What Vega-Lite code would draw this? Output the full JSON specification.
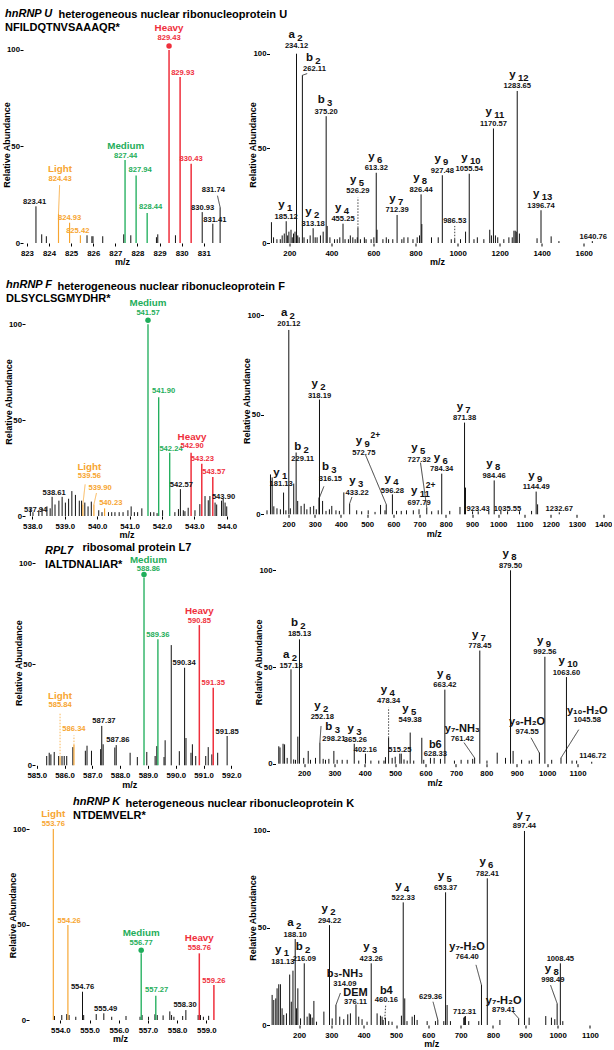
{
"$schema": "https://vega.github.io/schema/vega-lite/v6.json",
"padding": {"left": 2, "top": 8, "right": 0, "bottom": 0},
"config": {
  "view": {"stroke": null},
  "font": "Liberation Sans",
  "axis": {"grid": false, "domain": false, "labelFont": "Liberation Sans", "labelFontWeight": "bold", "labelFontSize": 7.8, "labelColor": "#000", "titleFont": "Liberation Sans", "titleFontWeight": "bold", "titleFontSize": 9, "titleColor": "#000", "tickColor": "#000", "tickSize": 3, "tickWidth": 1, "labelFlush": false, "labelOverlap": false},
  "axisX": {"labelPadding": 3, "titlePadding": 1},
  "axisY": {"labelPadding": 0.5, "titleX": -12},
  "title": {"font": "Liberation Sans", "fontWeight": "bold", "fontSize": 11, "color": "#000", "subtitleFont": "Liberation Sans", "subtitleFontWeight": "bold", "subtitleFontSize": 11, "subtitleColor": "#000", "subtitlePadding": 0, "anchor": "start", "frame": "group"},
  "text": {"font": "Liberation Sans", "fontWeight": "bold"}
},
"datasets": {
  "p1L": [{"mz":823.41,"ab":19,"c":"K"},{"mz":823.67,"ab":4.5,"c":"K"},{"mz":823.88,"ab":3.5,"c":"K"},{"mz":825.72,"ab":4,"c":"K"},{"mz":825.94,"ab":3.5,"c":"K"},{"mz":825.99,"ab":3.5,"c":"K"},{"mz":826.43,"ab":3.5,"c":"K"},{"mz":827.38,"ab":4.5,"c":"K"},{"mz":827.70,"ab":4,"c":"K"},{"mz":828.86,"ab":3,"c":"K"},{"mz":828.92,"ab":4.5,"c":"K"},{"mz":829.72,"ab":4,"c":"K"},{"mz":830.93,"ab":16,"c":"K"},{"mz":831.41,"ab":10,"c":"K"},{"mz":831.74,"ab":18.5,"c":"K"},{"mz":824.43,"ab":15,"c":"L"},{"mz":824.93,"ab":10.5,"c":"L"},{"mz":825.42,"ab":4,"c":"L"},{"mz":827.44,"ab":43,"c":"M"},{"mz":827.94,"ab":35,"c":"M"},{"mz":828.44,"ab":15.5,"c":"M"},{"mz":829.43,"ab":100,"c":"H","q":1},{"mz":829.93,"ab":86,"c":"H"},{"mz":830.43,"ab":41,"c":"H"}],
  "b1L": [{"mz":823.35,"ab":19,"t":"823.41","c":"K"},{"mz":824.5,"ab":31,"t":"824.43","n":"Light","c":"L"},{"mz":824.93,"ab":10.5,"t":"824.93","c":"L"},{"mz":825.3,"ab":4,"t":"825.42","c":"L"},{"mz":827.47,"ab":43,"t":"827.44","n":"Medium","c":"M"},{"mz":828.12,"ab":35.5,"t":"827.94","c":"M"},{"mz":828.6,"ab":16.5,"t":"828.44","c":"M"},{"mz":829.43,"ab":104,"t":"829.43","n":"Heavy","c":"H"},{"mz":830.05,"ab":86,"t":"829.93","c":"H"},{"mz":830.43,"ab":41,"t":"830.43","c":"H"},{"mz":830.95,"ab":16,"t":"830.93","c":"K"},{"mz":831.5,"ab":9.5,"t":"831.41","c":"K"},{"mz":831.43,"ab":25,"t":"831.74","c":"K"}],
  "d1L": [{"mz":824.43,"ab":15,"mz2":824.48,"ab2":30,"c":"L","d":"s"},{"mz":831.74,"ab":18.5,"mz2":831.62,"ab2":24.5,"c":"K","d":"s"}],
  "p1R": [{"mz":115,"ab":11},{"mz":125,"ab":3},{"mz":141,"ab":2},{"mz":157,"ab":2},{"mz":166,"ab":4},{"mz":176,"ab":5},{"mz":185.12,"ab":11.5},{"mz":192,"ab":4},{"mz":198,"ab":6},{"mz":208,"ab":7},{"mz":214,"ab":3},{"mz":220,"ab":5},{"mz":227,"ab":6},{"mz":234.12,"ab":100},{"mz":240,"ab":4},{"mz":247,"ab":3},{"mz":262.11,"ab":88.6},{"mz":270,"ab":3},{"mz":286,"ab":2},{"mz":299,"ab":4},{"mz":313.18,"ab":7.8},{"mz":323,"ab":3},{"mz":332,"ab":3},{"mz":348,"ab":4},{"mz":361,"ab":6},{"mz":375.2,"ab":67},{"mz":380,"ab":9},{"mz":393,"ab":3},{"mz":415,"ab":2},{"mz":428,"ab":2},{"mz":440,"ab":3},{"mz":455.25,"ab":10.2},{"mz":465,"ab":2},{"mz":481,"ab":2},{"mz":490,"ab":4},{"mz":502,"ab":3},{"mz":513,"ab":2},{"mz":523,"ab":3},{"mz":526.29,"ab":8},{"mz":538,"ab":2},{"mz":557,"ab":3},{"mz":565,"ab":2},{"mz":589,"ab":2},{"mz":602,"ab":3},{"mz":613.32,"ab":37.1},{"mz":617,"ab":7},{"mz":645,"ab":2},{"mz":661,"ab":3},{"mz":672,"ab":2},{"mz":692,"ab":2},{"mz":712.39,"ab":14.8},{"mz":735,"ab":2},{"mz":745,"ab":3},{"mz":764,"ab":3},{"mz":788,"ab":2},{"mz":808,"ab":3},{"mz":819,"ab":4},{"mz":826.44,"ab":25.7},{"mz":830,"ab":10},{"mz":876,"ab":3},{"mz":908,"ab":3},{"mz":927.48,"ab":35.8},{"mz":970,"ab":2},{"mz":986.53,"ab":2},{"mz":1014,"ab":2},{"mz":1038,"ab":6},{"mz":1055.54,"ab":36.6},{"mz":1078,"ab":2},{"mz":1094,"ab":3},{"mz":1125,"ab":2},{"mz":1153,"ab":7},{"mz":1161,"ab":4},{"mz":1170.57,"ab":60.5},{"mz":1180,"ab":4},{"mz":1191,"ab":3},{"mz":1220,"ab":2},{"mz":1244,"ab":3},{"mz":1260,"ab":3},{"mz":1268,"ab":6.5},{"mz":1274,"ab":6.5},{"mz":1279,"ab":6},{"mz":1283.65,"ab":80.3},{"mz":1294,"ab":5},{"mz":1378,"ab":2.5},{"mz":1396.74,"ab":17.3},{"mz":1445,"ab":3.5},{"mz":1482,"ab":1},{"mz":1640.76,"ab":1}],
  "b1R": [{"mz":185.12,"ab":11.5,"t":"185.12","n":"y","s":"1"},{"mz":234.12,"ab":101.5,"t":"234.12","n":"a","s":"2"},{"mz":319.7,"ab":89.4,"t":"262.11","n":"b","s":"2"},{"mz":313.18,"ab":7.8,"t":"313.18","n":"y","s":"2"},{"mz":375.2,"ab":67,"t":"375.20","n":"b","s":"3"},{"mz":455.25,"ab":10.2,"t":"455.25","n":"y","s":"4"},{"mz":526.29,"ab":25,"t":"526.29","n":"y","s":"5"},{"mz":613.32,"ab":37.1,"t":"613.32","n":"y","s":"6"},{"mz":712.39,"ab":14.8,"t":"712.39","n":"y","s":"7"},{"mz":826.44,"ab":25.7,"t":"826.44","n":"y","s":"8"},{"mz":927.48,"ab":35.8,"t":"927.48","n":"y","s":"9"},{"mz":986.53,"ab":9.5,"t":"986.53"},{"mz":1055.54,"ab":36.6,"t":"1055.54","n":"y","s":"10"},{"mz":1170.57,"ab":60.5,"t":"1170.57","n":"y","s":"11"},{"mz":1283.65,"ab":80.3,"t":"1283.65","n":"y","s":"12"},{"mz":1396.74,"ab":17.3,"t":"1396.74","n":"y","s":"13"},{"mz":1645,"ab":1,"t":"1640.76"}],
  "d1R": [{"mz":262.11,"ab":88.6,"mz2":285,"ab2":89.5,"d":"s"},{"mz":526.29,"ab":8,"mz2":526.29,"ab2":24,"d":"d"},{"mz":986.53,"ab":2,"mz2":986.53,"ab2":9,"d":"d"}],
  "p2L": [{"mz":537.94,"ab":4,"c":"K"},{"mz":538.02,"ab":2,"c":"K"},{"mz":538.2,"ab":3,"c":"K"},{"mz":538.3,"ab":4,"c":"K"},{"mz":538.45,"ab":5,"c":"K"},{"mz":538.55,"ab":4,"c":"K"},{"mz":538.61,"ab":10,"c":"K"},{"mz":538.7,"ab":6,"c":"K"},{"mz":538.82,"ab":8,"c":"K"},{"mz":538.92,"ab":10,"c":"K"},{"mz":539.02,"ab":7,"c":"K"},{"mz":539.12,"ab":9,"c":"K"},{"mz":539.22,"ab":13,"c":"K"},{"mz":539.33,"ab":11,"c":"K"},{"mz":539.45,"ab":8,"c":"K"},{"mz":539.52,"ab":8,"c":"K"},{"mz":539.62,"ab":7,"c":"K"},{"mz":539.72,"ab":5,"c":"K"},{"mz":539.82,"ab":7.5,"c":"K"},{"mz":540.05,"ab":3,"c":"K"},{"mz":540.15,"ab":2,"c":"K"},{"mz":540.35,"ab":2,"c":"K"},{"mz":540.45,"ab":2,"c":"K"},{"mz":540.55,"ab":2,"c":"K"},{"mz":540.68,"ab":2,"c":"K"},{"mz":540.8,"ab":2,"c":"K"},{"mz":540.95,"ab":3,"c":"K"},{"mz":541.05,"ab":5,"c":"K"},{"mz":541.15,"ab":2,"c":"K"},{"mz":541.25,"ab":2,"c":"K"},{"mz":541.38,"ab":4,"c":"K"},{"mz":541.65,"ab":2,"c":"K"},{"mz":541.75,"ab":2,"c":"K"},{"mz":541.85,"ab":1.5,"c":"K"},{"mz":542.02,"ab":3,"c":"K"},{"mz":542.4,"ab":2,"c":"K"},{"mz":542.51,"ab":3.6,"c":"K"},{"mz":542.57,"ab":14,"c":"K"},{"mz":542.66,"ab":3,"c":"K"},{"mz":542.71,"ab":2.5,"c":"K"},{"mz":542.81,"ab":4.3,"c":"K"},{"mz":543.02,"ab":3,"c":"K"},{"mz":543.17,"ab":6.2,"c":"K"},{"mz":543.33,"ab":10.4,"c":"K"},{"mz":543.43,"ab":8.2,"c":"K"},{"mz":543.48,"ab":10.4,"c":"K"},{"mz":543.64,"ab":7,"c":"K"},{"mz":543.69,"ab":6,"c":"K"},{"mz":543.84,"ab":8,"c":"K"},{"mz":543.89,"ab":9,"c":"K"},{"mz":543.95,"ab":7,"c":"K"},{"mz":544.0,"ab":5,"c":"K"},{"mz":539.56,"ab":6,"c":"L"},{"mz":539.9,"ab":6,"c":"L"},{"mz":540.23,"ab":4,"c":"L"},{"mz":541.57,"ab":100,"c":"M","q":1},{"mz":541.9,"ab":62,"c":"M"},{"mz":542.24,"ab":33,"c":"M"},{"mz":542.9,"ab":33,"c":"H"},{"mz":543.23,"ab":27.3,"c":"H"},{"mz":543.57,"ab":20.3,"c":"H"}],
  "b2L": [{"mz":538.1,"ab":0.6,"t":"537.94","c":"K"},{"mz":538.67,"ab":9.7,"t":"538.61","c":"K"},{"mz":539.76,"ab":18.4,"t":"539.56","n":"Light","c":"L"},{"mz":540.09,"ab":12.3,"t":"539.90","c":"L"},{"mz":540.42,"ab":4.5,"t":"540.23","c":"L"},{"mz":541.57,"ab":103.6,"t":"541.57","n":"Medium","c":"M"},{"mz":542.05,"ab":62.7,"t":"541.90","c":"M"},{"mz":542.28,"ab":32.5,"t":"542.24","c":"M"},{"mz":542.6,"ab":14,"t":"542.57","c":"K"},{"mz":542.93,"ab":34,"t":"542.90","n":"Heavy","c":"H"},{"mz":543.25,"ab":27.5,"t":"543.23","c":"H"},{"mz":543.6,"ab":20.5,"t":"543.57","c":"H"},{"mz":543.9,"ab":7.6,"t":"543.90","c":"K"}],
  "d2L": [{"mz":539.56,"ab":6,"mz2":539.63,"ab2":16.5,"c":"L","d":"s"},{"mz":539.9,"ab":6,"mz2":539.98,"ab2":12,"c":"L","d":"s"}],
  "p2R": [{"mz":118,"ab":2},{"mz":131.3,"ab":20},{"mz":137.6,"ab":18.5},{"mz":144,"ab":4},{"mz":156,"ab":3},{"mz":169,"ab":2.5},{"mz":181.13,"ab":10.9},{"mz":190,"ab":2},{"mz":201.12,"ab":92.5},{"mz":207,"ab":3},{"mz":220,"ab":15.4},{"mz":229.11,"ab":31},{"mz":235,"ab":6.7},{"mz":248,"ab":4.2},{"mz":260,"ab":5.3},{"mz":270,"ab":2.5},{"mz":283,"ab":3.7},{"mz":296,"ab":4.2},{"mz":306,"ab":2.5},{"mz":316.15,"ab":8.4},{"mz":318.19,"ab":57.6},{"mz":330,"ab":6.7},{"mz":343,"ab":1.7},{"mz":356,"ab":2.5},{"mz":365,"ab":4.2},{"mz":381,"ab":2},{"mz":394,"ab":1.7},{"mz":411,"ab":11},{"mz":433.22,"ab":5.4},{"mz":460,"ab":2},{"mz":479,"ab":1.5},{"mz":504,"ab":2},{"mz":530,"ab":1.2},{"mz":551,"ab":4.7},{"mz":568,"ab":2},{"mz":572.75,"ab":5},{"mz":596.28,"ab":10},{"mz":612,"ab":1.7},{"mz":630,"ab":1.7},{"mz":650,"ab":2},{"mz":676,"ab":2},{"mz":697.79,"ab":2.5},{"mz":727.32,"ab":3.4},{"mz":746,"ab":1.5},{"mz":771,"ab":2},{"mz":784.34,"ab":20.4},{"mz":815,"ab":1.7},{"mz":854,"ab":3.7},{"mz":871.38,"ab":46},{"mz":875,"ab":13.4},{"mz":902,"ab":1.5},{"mz":923.43,"ab":1.5},{"mz":964,"ab":1.7},{"mz":984.46,"ab":17},{"mz":1010,"ab":1.7},{"mz":1035.55,"ab":1.5},{"mz":1081,"ab":1.5},{"mz":1127,"ab":1.7},{"mz":1144.49,"ab":11.4},{"mz":1150,"ab":5},{"mz":1232.67,"ab":1}],
  "b2R": [{"mz":172,"ab":12.7,"t":"181.13","n":"y","s":"1"},{"mz":201.12,"ab":93,"t":"201.12","n":"a","s":"2"},{"mz":254,"ab":25.6,"t":"229.11","n":"b","s":"2"},{"mz":360,"ab":15.5,"t":"316.15","n":"b","s":"3"},{"mz":318.19,"ab":57.2,"t":"318.19","n":"y","s":"2"},{"mz":462,"ab":8.5,"t":"433.22","n":"y","s":"3"},{"mz":487,"ab":28.6,"t":"572.75","n":"y","s":"9","p":"2+"},{"mz":596.28,"ab":9.5,"t":"596.28","n":"y","s":"4"},{"mz":697.79,"ab":3.5,"t":"697.79","n":"y","s":"11","p":"\u00a0\u00a0\u00a02+"},{"mz":698,"ab":25.2,"t":"727.32","n":"y","s":"5"},{"mz":784.34,"ab":20.4,"t":"784.34","n":"y","s":"6"},{"mz":871.38,"ab":46,"t":"871.38","n":"y","s":"7"},{"mz":923.43,"ab":0.5,"t":"923.43"},{"mz":984.46,"ab":17,"t":"984.46","n":"y","s":"8"},{"mz":1035.55,"ab":0.5,"t":"1035.55"},{"mz":1144.49,"ab":11.4,"t":"1144.49","n":"y","s":"9"},{"mz":1232.67,"ab":0.5,"t":"1232.67"}],
  "d2R": [{"mz":318,"ab":8.4,"mz2":335,"ab2":14,"d":"s"},{"mz":433.22,"ab":5.4,"mz2":442,"ab2":8.7,"d":"s"},{"mz":572.75,"ab":5,"mz2":493.6,"ab2":29.8,"d":"s"},{"mz":727.32,"ab":3.4,"mz2":703.4,"ab2":25.9,"d":"s"}],
  "p3L": [{"mz":585.36,"ab":4.6,"c":"K"},{"mz":585.45,"ab":6.2,"c":"K"},{"mz":585.51,"ab":5.4,"c":"K"},{"mz":585.63,"ab":6.6,"c":"K"},{"mz":585.79,"ab":4.6,"c":"K"},{"mz":585.91,"ab":4.6,"c":"K"},{"mz":585.99,"ab":4.6,"c":"K"},{"mz":586.08,"ab":4.6,"c":"K"},{"mz":586.3,"ab":9,"c":"K"},{"mz":586.75,"ab":7.2,"c":"K"},{"mz":586.81,"ab":9.7,"c":"K"},{"mz":586.97,"ab":7.2,"c":"K"},{"mz":587.3,"ab":8,"c":"K"},{"mz":587.34,"ab":19.5,"c":"K"},{"mz":587.39,"ab":10.4,"c":"K"},{"mz":587.81,"ab":8.8,"c":"K"},{"mz":587.86,"ab":10,"c":"K"},{"mz":588.36,"ab":6.2,"c":"K"},{"mz":588.62,"ab":4.1,"c":"K"},{"mz":588.96,"ab":6.6,"c":"K"},{"mz":589.26,"ab":4.6,"c":"K"},{"mz":589.32,"ab":9.5,"c":"K"},{"mz":589.58,"ab":4.1,"c":"K"},{"mz":589.62,"ab":12.4,"c":"K"},{"mz":589.84,"ab":59.5,"c":"K"},{"mz":590.13,"ab":7,"c":"K"},{"mz":590.32,"ab":48.3,"c":"K"},{"mz":590.37,"ab":13.5,"c":"K"},{"mz":590.55,"ab":6.2,"c":"K"},{"mz":590.6,"ab":10.4,"c":"K"},{"mz":590.72,"ab":4.6,"c":"K"},{"mz":591.08,"ab":4.6,"c":"K"},{"mz":591.17,"ab":9,"c":"K"},{"mz":591.3,"ab":5.4,"c":"K"},{"mz":591.51,"ab":6.2,"c":"K"},{"mz":591.85,"ab":14.5,"c":"K"},{"mz":585.84,"ab":4,"c":"L"},{"mz":586.34,"ab":10,"c":"L"},{"mz":588.86,"ab":93,"c":"M","q":1},{"mz":589.36,"ab":62.4,"c":"M"},{"mz":590.85,"ab":69.4,"c":"H"},{"mz":591.35,"ab":38.4,"c":"H"}],
  "b3L": [{"mz":585.84,"ab":27.5,"t":"585.84","n":"Light","c":"L"},{"mz":586.34,"ab":15.5,"t":"586.34","c":"L"},{"mz":587.42,"ab":19.5,"t":"587.37","c":"K"},{"mz":587.92,"ab":10.2,"t":"587.86","c":"K"},{"mz":589.02,"ab":94.8,"t":"588.86","n":"Medium","c":"M"},{"mz":589.36,"ab":62.4,"t":"589.36","c":"M"},{"mz":590.3,"ab":48.3,"t":"590.34","c":"K"},{"mz":590.85,"ab":69.4,"t":"590.85","n":"Heavy","c":"H"},{"mz":591.35,"ab":38.4,"t":"591.35","c":"H"},{"mz":591.85,"ab":14.5,"t":"591.85","c":"K"}],
  "d3L": [{"mz":585.84,"ab":4,"mz2":585.84,"ab2":26,"c":"L","d":"d"},{"mz":586.34,"ab":10,"mz2":586.34,"ab2":14.8,"c":"L","d":"d"}],
  "p3R": [{"mz":117,"ab":9},{"mz":121,"ab":8.4},{"mz":131,"ab":10.3},{"mz":136,"ab":10},{"mz":144.6,"ab":3},{"mz":157.13,"ab":48.8},{"mz":166,"ab":2.2},{"mz":172,"ab":2},{"mz":179.6,"ab":14},{"mz":185.13,"ab":64.3},{"mz":199,"ab":3},{"mz":213.8,"ab":6.6},{"mz":221.3,"ab":2},{"mz":237.8,"ab":3},{"mz":252.18,"ab":10.9},{"mz":263,"ab":2.5},{"mz":270.7,"ab":2},{"mz":281.7,"ab":2.5},{"mz":298.21,"ab":6.6},{"mz":309,"ab":2},{"mz":325.6,"ab":2},{"mz":342,"ab":2},{"mz":365.26,"ab":10.3},{"mz":380,"ab":1.6},{"mz":402.16,"ab":5.2},{"mz":420,"ab":1.6},{"mz":446,"ab":1.6},{"mz":463,"ab":1.6},{"mz":468,"ab":3.4},{"mz":478.34,"ab":13.4},{"mz":490,"ab":3},{"mz":500,"ab":3.6},{"mz":515.25,"ab":5.2},{"mz":520,"ab":5.2},{"mz":529,"ab":2.2},{"mz":539.5,"ab":1.6},{"mz":549.38,"ab":16.1},{"mz":561,"ab":1.6},{"mz":587.6,"ab":13.4},{"mz":594,"ab":2},{"mz":616,"ab":3},{"mz":628.33,"ab":3},{"mz":649,"ab":2.5},{"mz":663.42,"ab":38.3},{"mz":695,"ab":1.6},{"mz":717,"ab":2},{"mz":739,"ab":2},{"mz":755,"ab":2.5},{"mz":761.42,"ab":3},{"mz":778.45,"ab":58.5},{"mz":802,"ab":1.6},{"mz":835.7,"ab":5.7},{"mz":863,"ab":3},{"mz":879.5,"ab":100},{"mz":888,"ab":6.6},{"mz":916,"ab":2},{"mz":941,"ab":1.6},{"mz":949,"ab":2},{"mz":974.55,"ab":5.7},{"mz":992.56,"ab":55.3},{"mz":1015,"ab":2},{"mz":1045.58,"ab":3},{"mz":1063.6,"ab":44.8},{"mz":1082,"ab":1.6},{"mz":1097,"ab":1.6},{"mz":1146.72,"ab":1}],
  "b3R": [{"mz":157.13,"ab":48,"t":"157.13","n":"a","s":"2"},{"mz":185.13,"ab":64.5,"t":"185.13","n":"b","s":"2"},{"mz":260,"ab":21.7,"t":"252.18","n":"y","s":"2"},{"mz":298.21,"ab":10.6,"t":"298.21","n":"b","s":"3"},{"mz":369,"ab":9.7,"t":"365.26","n":"y","s":"3"},{"mz":402.16,"ab":4.7,"t":"402.16"},{"mz":478.34,"ab":30,"t":"478.34","n":"y","s":"4"},{"mz":515.25,"ab":4.7,"t":"515.25"},{"mz":549.38,"ab":20.1,"t":"549.38","n":"y","s":"5"},{"mz":632,"ab":2.5,"t":"628.33","n":"b6"},{"mz":663.42,"ab":38.3,"t":"663.42","n":"y","s":"6"},{"mz":721,"ab":10.5,"t":"761.42","n":"y₇-NH₃"},{"mz":778.45,"ab":58.5,"t":"778.45","n":"y","s":"7"},{"mz":879.5,"ab":100,"t":"879.50","n":"y","s":"8"},{"mz":934,"ab":14.2,"t":"974.55","n":"y₉-H₂O"},{"mz":992.56,"ab":55.3,"t":"992.56","n":"y","s":"9"},{"mz":1063.6,"ab":44.8,"t":"1063.60","n":"y","s":"10"},{"mz":1132,"ab":20.2,"t":"1045.58","n":"y₁₀-H₂O"},{"mz":1150,"ab":1.5,"t":"1146.72"}],
  "d3R": [{"mz":252.18,"ab":10.9,"mz2":256,"ab2":19.5,"d":"s"},{"mz":478.34,"ab":13.4,"mz2":478.34,"ab2":29,"d":"d"},{"mz":761.42,"ab":3,"mz2":726.5,"ab2":10.9,"d":"s"},{"mz":974.55,"ab":5.5,"mz2":947,"ab2":13.4,"d":"s"},{"mz":1045.58,"ab":3,"mz2":1104,"ab2":17.6,"d":"s"}],
  "p4L": [{"mz":553.8,"ab":2.1,"c":"K"},{"mz":554.05,"ab":2.6,"c":"K"},{"mz":554.22,"ab":3.1,"c":"K"},{"mz":554.3,"ab":2.6,"c":"K"},{"mz":554.53,"ab":1.7,"c":"K"},{"mz":554.76,"ab":14.8,"c":"K"},{"mz":554.8,"ab":2.6,"c":"K"},{"mz":555.23,"ab":3.1,"c":"K"},{"mz":555.49,"ab":3.5,"c":"K"},{"mz":555.76,"ab":1.7,"c":"K"},{"mz":556.25,"ab":2.1,"c":"K"},{"mz":556.73,"ab":1.7,"c":"K"},{"mz":556.8,"ab":2.6,"c":"K"},{"mz":557.02,"ab":1.7,"c":"K"},{"mz":557.24,"ab":3,"c":"K"},{"mz":557.32,"ab":2.6,"c":"K"},{"mz":557.52,"ab":2.4,"c":"K"},{"mz":557.75,"ab":4.5,"c":"K"},{"mz":557.81,"ab":2.6,"c":"K"},{"mz":557.89,"ab":1.7,"c":"K"},{"mz":558.19,"ab":2.1,"c":"K"},{"mz":558.3,"ab":5.2,"c":"K"},{"mz":558.72,"ab":2.6,"c":"K"},{"mz":558.8,"ab":2.6,"c":"K"},{"mz":558.9,"ab":1.7,"c":"K"},{"mz":559.08,"ab":2.2,"c":"K"},{"mz":553.76,"ab":100,"c":"L"},{"mz":554.26,"ab":49.7,"c":"L"},{"mz":556.77,"ab":34.9,"c":"M","q":1},{"mz":557.27,"ab":12.7,"c":"M"},{"mz":558.76,"ab":34.9,"c":"H"},{"mz":559.26,"ab":18.3,"c":"H"}],
  "b4L": [{"mz":553.76,"ab":100.5,"t":"553.76","n":"Light","c":"L"},{"mz":554.3,"ab":49.7,"t":"554.26","c":"L"},{"mz":554.76,"ab":14.8,"t":"554.76","c":"K"},{"mz":555.55,"ab":3.5,"t":"555.49","c":"K"},{"mz":556.77,"ab":38,"t":"556.77","n":"Medium","c":"M"},{"mz":557.3,"ab":13.2,"t":"557.27","c":"M"},{"mz":558.27,"ab":5.5,"t":"558.30","c":"K"},{"mz":558.76,"ab":35.6,"t":"558.76","n":"Heavy","c":"H"},{"mz":559.26,"ab":18.3,"t":"559.26","c":"H"}],
  "p4R": [{"mz":116.7,"ab":15.5},{"mz":121.8,"ab":12.9},{"mz":128,"ab":13.7},{"mz":132,"ab":18.9},{"mz":137.2,"ab":21},{"mz":142.4,"ab":21},{"mz":147.5,"ab":8.6},{"mz":152.7,"ab":5.2},{"mz":161,"ab":6},{"mz":171,"ab":26},{"mz":176,"ab":12},{"mz":181.13,"ab":28},{"mz":188.1,"ab":44.3},{"mz":192,"ab":8.6},{"mz":196.3,"ab":18.9},{"mz":204.6,"ab":3.4},{"mz":216.09,"ab":31.8},{"mz":225,"ab":4.3},{"mz":231.5,"ab":6},{"mz":235.6,"ab":5.5},{"mz":240.7,"ab":3.8},{"mz":245.9,"ab":12.4},{"mz":254.1,"ab":1.7},{"mz":276.8,"ab":6.9},{"mz":294.22,"ab":51.5},{"mz":302.5,"ab":3.4},{"mz":314.09,"ab":10.3},{"mz":325.9,"ab":4.3},{"mz":338.3,"ab":3},{"mz":350.7,"ab":5.5},{"mz":358.9,"ab":6},{"mz":376.11,"ab":10.6},{"mz":384.6,"ab":4.3},{"mz":394.9,"ab":3},{"mz":410.4,"ab":1.7},{"mz":423.26,"ab":31.8},{"mz":441.5,"ab":6},{"mz":451.8,"ab":4.8},{"mz":456.9,"ab":4.3},{"mz":460.16,"ab":2.6},{"mz":467.2,"ab":3.8},{"mz":477.5,"ab":2},{"mz":487.8,"ab":1.7},{"mz":516.7,"ab":4.8},{"mz":522.33,"ab":63.2},{"mz":527,"ab":13.7},{"mz":534,"ab":2},{"mz":549.9,"ab":4.3},{"mz":557.1,"ab":5.2},{"mz":565.3,"ab":2.6},{"mz":596.3,"ab":2},{"mz":622,"ab":2},{"mz":629.36,"ab":2.6},{"mz":647.8,"ab":2},{"mz":653.37,"ab":68.4},{"mz":658.1,"ab":10.3},{"mz":668.4,"ab":2},{"mz":709.6,"ab":3.8},{"mz":712.31,"ab":4.3},{"mz":714.8,"ab":4.6},{"mz":725,"ab":2},{"mz":756,"ab":2},{"mz":764.4,"ab":20.6},{"mz":782.41,"ab":75.6},{"mz":821.4,"ab":2.6},{"mz":879.41,"ab":3.4},{"mz":897.44,"ab":100},{"mz":911.8,"ab":3.8},{"mz":963.3,"ab":4.6},{"mz":980.9,"ab":3.8},{"mz":991.2,"ab":3},{"mz":998.49,"ab":11.1},{"mz":1008.45,"ab":31.8},{"mz":1016,"ab":2}],
  "b4R": [{"mz":150,"ab":30.2,"t":"181.13","n":"y","s":"1"},{"mz":188.1,"ab":44.3,"t":"188.10","n":"a","s":"2"},{"mz":216.09,"ab":31.8,"t":"216.09","n":"b","s":"2"},{"mz":294.22,"ab":51.5,"t":"294.22","n":"y","s":"2"},{"mz":342,"ab":19,"t":"314.09","n":"b₃-NH₃"},{"mz":374.7,"ab":9.5,"t":"376.11","n":"DEM"},{"mz":423.26,"ab":31.8,"t":"423.26","n":"y","s":"3"},{"mz":470,"ab":10.5,"t":"460.16","n":"b4"},{"mz":522.33,"ab":63.2,"t":"522.33","n":"y","s":"4"},{"mz":607,"ab":12.2,"t":"629.36"},{"mz":712.31,"ab":4.3,"t":"712.31"},{"mz":653.37,"ab":68.4,"t":"653.37","n":"y","s":"5"},{"mz":720,"ab":32.8,"t":"764.40","n":"y₇-H₂O"},{"mz":782.41,"ab":75.6,"t":"782.41","n":"y","s":"6"},{"mz":833,"ab":5.3,"t":"879.41","n":"y₇-H₂O"},{"mz":897.44,"ab":100,"t":"897.44","n":"y","s":"7"},{"mz":985,"ab":20.8,"t":"998.49","n":"y","s":"8"},{"mz":1008.45,"ab":31.8,"t":"1008.45"}],
  "d4R": [{"mz":314.09,"ab":10.3,"mz2":328,"ab2":16.5,"d":"s"},{"mz":465,"ab":3,"mz2":468,"ab2":10,"d":"d"},{"mz":629.36,"ab":2.6,"mz2":614.5,"ab2":12,"d":"s"},{"mz":764.4,"ab":20.6,"mz2":747.4,"ab2":31,"d":"s"},{"mz":879.41,"ab":3.4,"mz2":859,"ab2":7.2,"d":"s"},{"mz":998.49,"ab":11.1,"mz2":978,"ab2":20.6,"d":"s"}]
},
"columns": 2,
"bounds": "flush",
"align": "each",
"spacing": {"row": 44, "column": 27.5},
"concat": [
 {
  "width": 198, "height": 197,
  "title": {"text": "hnRNP U", "fontStyle": "italic", "subtitle": "NFILDQTNVSAAAQR*", "dx": -18, "offset": -10},
  "encoding": {
   "x": {"field": "mz", "type": "quantitative", "scale": {"domain": [822.824, 831.78], "nice": false, "zero": false}, "axis": {"values": [823,824,825,826,827,828,829,830,831], "format": "d", "title": "m/z"}},
   "y": {"field": "ab", "type": "quantitative", "scale": {"domain": [0, 102.07], "nice": false}, "axis": {"values": [0,50,100], "title": "Relative Abundance", "offset": 0}},
   "color": {"field": "c", "type": "nominal", "scale": {"domain": ["K","L","M","H"], "range": ["#111111","#F7A530","#1FAE5B","#EF2F3C"]}, "legend": null}
  },
  "layer": [
   {"data": {"name": "p1L"}, "mark": {"type": "rule"}, "encoding": {"y2": {"datum": 0}, "size": {"field": "c", "type": "ordinal", "scale": {"domain": ["K","L","M","H"], "range": [1,1.5,1.5,1.5]}, "legend": null}}},
   {"data": {"values": [{}]}, "mark": {"type": "rule", "strokeWidth": 1}, "encoding": {"x": {"datum": 822.824}, "x2": {"datum": 831.78}, "y": {"datum": 0}, "color": {"value": "#000"}}},
   {"data": {"values": [{}]}, "mark": {"type": "rule", "strokeWidth": 1}, "encoding": {"x": {"datum": 822.824}, "y": {"datum": 0}, "y2": {"datum": 100}, "color": {"value": "#000"}}},
   {"data": {"name": "d1L"}, "mark": {"type": "rule", "strokeWidth": 0.8}, "encoding": {"x2": {"field": "mz2"}, "y2": {"field": "ab2"}, "strokeDash": {"field": "d", "type": "nominal", "scale": {"domain": ["s","d"], "range": [[1,0],[1.5,1.5]]}, "legend": null}}},
   {"data": {"name": "b1L"}, "mark": {"type": "text", "baseline": "alphabetic", "dy": -2.5, "fontSize": 7.6}, "encoding": {"text": {"field": "t"}}},
   {"data": {"name": "b1L"}, "transform": [{"filter": "datum.n"}], "mark": {"type": "text", "baseline": "alphabetic", "dy": -11, "fontSize": 9.8}, "encoding": {"text": {"field": "n"}}},
   {"data": {"name": "p1L"}, "transform": [{"filter": "datum.q == 1"}], "mark": {"type": "point", "filled": true, "size": 30, "yOffset": -4, "opacity": 1}}
  ]
 },
 {
  "width": 347, "height": 197,
  "title": {"text": "heterogeneous nuclear ribonucleoprotein U", "dx": -205, "offset": 8.5},
  "encoding": {
   "x": {"field": "mz", "type": "quantitative", "scale": {"domain": [77.2, 1727.2], "nice": false, "zero": false}, "axis": {"values": [200,400,600,800,1000,1200,1400,1600], "format": "d", "title": "m/z"}},
   "y": {"field": "ab", "type": "quantitative", "scale": {"domain": [0, 104.07], "nice": false}, "axis": {"values": [0,50,100], "title": "Relative Abundance", "offset": -6}},
   "color": {"value": "#111111"}
  },
  "layer": [
   {"data": {"name": "p1R"}, "mark": {"type": "rule", "strokeWidth": 1}, "encoding": {"y2": {"datum": 0}}},
   {"data": {"values": [{}]}, "mark": {"type": "rule", "strokeWidth": 1}, "encoding": {"x": {"datum": 105.7}, "x2": {"datum": 1727.2}, "y": {"datum": 0}, "color": {"value": "#000"}}},
   {"data": {"values": [{}]}, "mark": {"type": "rule", "strokeWidth": 1}, "encoding": {"x": {"datum": 105.7}, "y": {"datum": 0}, "y2": {"datum": 100}, "color": {"value": "#000"}}},
   {"data": {"name": "d1R"}, "mark": {"type": "rule", "strokeWidth": 0.8}, "encoding": {"x2": {"field": "mz2"}, "y2": {"field": "ab2"}, "strokeDash": {"field": "d", "type": "nominal", "scale": {"domain": ["s","d"], "range": [[1,0],[1.5,1.5]]}, "legend": null}}},
   {"data": {"name": "b1R"}, "mark": {"type": "text", "baseline": "alphabetic", "dy": -2.5, "fontSize": 7.6}, "encoding": {"text": {"field": "t"}}},
   {"data": {"name": "b1R"}, "transform": [{"filter": "datum.s"}], "mark": {"type": "text", "baseline": "alphabetic", "align": "right", "dx": -1.5, "dy": -13, "fontSize": 11.5}, "encoding": {"text": {"field": "n"}}},
   {"data": {"name": "b1R"}, "transform": [{"filter": "datum.s"}], "mark": {"type": "text", "baseline": "alphabetic", "align": "left", "dx": 0.8, "dy": -10, "fontSize": 9.5}, "encoding": {"text": {"field": "s"}}}
  ]
 },
 {
  "width": 207, "height": 229,
  "title": {"text": "hnRNP F", "fontStyle": "italic", "subtitle": "DLSYCLSGMYDHR*", "dx": -17, "offset": -17},
  "encoding": {
   "x": {"field": "mz", "type": "quantitative", "scale": {"domain": [537.712, 544.101], "nice": false, "zero": false}, "axis": {"values": [538,539,540,541,542,543,544], "format": ".1f", "title": "m/z"}},
   "y": {"field": "ab", "type": "quantitative", "scale": {"domain": [0, 119.46], "nice": false}, "axis": {"values": [0,50,100], "title": "Relative Abundance", "offset": -2}},
   "color": {"field": "c", "type": "nominal", "scale": {"domain": ["K","L","M","H"], "range": ["#111111","#F7A530","#1FAE5B","#EF2F3C"]}, "legend": null}
  },
  "layer": [
   {"data": {"name": "p2L"}, "mark": {"type": "rule"}, "encoding": {"y2": {"datum": 0}, "size": {"field": "c", "type": "ordinal", "scale": {"domain": ["K","L","M","H"], "range": [1,1.5,1.5,1.5]}, "legend": null}}},
   {"data": {"values": [{}]}, "mark": {"type": "rule", "strokeWidth": 1}, "encoding": {"x": {"datum": 537.774}, "x2": {"datum": 544.101}, "y": {"datum": 0}, "color": {"value": "#000"}}},
   {"data": {"values": [{}]}, "mark": {"type": "rule", "strokeWidth": 1}, "encoding": {"x": {"datum": 537.774}, "y": {"datum": 0}, "y2": {"datum": 100}, "color": {"value": "#000"}}},
   {"data": {"name": "d2L"}, "mark": {"type": "rule", "strokeWidth": 0.8}, "encoding": {"x2": {"field": "mz2"}, "y2": {"field": "ab2"}, "strokeDash": {"field": "d", "type": "nominal", "scale": {"domain": ["s","d"], "range": [[1,0],[1.5,1.5]]}, "legend": null}}},
   {"data": {"name": "b2L"}, "mark": {"type": "text", "baseline": "alphabetic", "dy": -2.5, "fontSize": 7.6}, "encoding": {"text": {"field": "t"}}},
   {"data": {"name": "b2L"}, "transform": [{"filter": "datum.n"}], "mark": {"type": "text", "baseline": "alphabetic", "dy": -11, "fontSize": 9.8}, "encoding": {"text": {"field": "n"}}},
   {"data": {"name": "p2L"}, "transform": [{"filter": "datum.q == 1"}], "mark": {"type": "point", "filled": true, "size": 30, "yOffset": -4, "opacity": 1}}
  ]
 },
 {
  "width": 340.3, "height": 227.3,
  "title": {"text": "heterogeneous nuclear ribonucleoprotein F", "dx": -206, "offset": -4.5},
  "encoding": {
   "x": {"field": "mz", "type": "quantitative", "scale": {"domain": [104.63, 1402.5], "nice": false, "zero": false}, "axis": {"values": [200,300,400,500,600,700,800,900,1000,1100,1200,1300,1400], "format": "d", "title": "m/z"}},
   "y": {"field": "ab", "type": "quantitative", "scale": {"domain": [0, 114.05], "nice": false}, "axis": {"values": [0,50,100], "title": "Relative Abundance", "offset": 0}},
   "color": {"value": "#111111"}
  },
  "layer": [
   {"data": {"name": "p2R"}, "mark": {"type": "rule", "strokeWidth": 1}, "encoding": {"y2": {"datum": 0}}},
   {"data": {"values": [{}]}, "mark": {"type": "rule", "strokeWidth": 1}, "encoding": {"x": {"datum": 104.63}, "x2": {"datum": 1402.5}, "y": {"datum": 0}, "color": {"value": "#000"}}},
   {"data": {"values": [{}]}, "mark": {"type": "rule", "strokeWidth": 1}, "encoding": {"x": {"datum": 104.63}, "y": {"datum": 0}, "y2": {"datum": 100}, "color": {"value": "#000"}}},
   {"data": {"name": "d2R"}, "mark": {"type": "rule", "strokeWidth": 0.8}, "encoding": {"x2": {"field": "mz2"}, "y2": {"field": "ab2"}, "strokeDash": {"field": "d", "type": "nominal", "scale": {"domain": ["s","d"], "range": [[1,0],[1.5,1.5]]}, "legend": null}}},
   {"data": {"name": "b2R"}, "mark": {"type": "text", "baseline": "alphabetic", "dy": -2.5, "fontSize": 7.6}, "encoding": {"text": {"field": "t"}}},
   {"data": {"name": "b2R"}, "transform": [{"filter": "datum.s"}], "mark": {"type": "text", "baseline": "alphabetic", "align": "right", "dx": -1.5, "dy": -13, "fontSize": 11.5}, "encoding": {"text": {"field": "n"}}},
   {"data": {"name": "b2R"}, "transform": [{"filter": "datum.s"}], "mark": {"type": "text", "baseline": "alphabetic", "align": "left", "dx": 0.8, "dy": -10, "fontSize": 9.5}, "encoding": {"text": {"field": "s"}}},
   {"data": {"name": "b2R"}, "transform": [{"filter": "datum.p"}], "mark": {"type": "text", "baseline": "alphabetic", "align": "left", "dx": 6.8, "dy": -19.8, "fontSize": 8.5}, "encoding": {"text": {"field": "p"}}}
  ]
 },
 {
  "width": 212.5, "height": 205.3,
  "title": {"text": "RPL7", "fontStyle": "italic", "subtitle": "IALTDNALIAR*", "dx": 22, "offset": -15.3},
  "encoding": {
   "x": {"field": "mz", "type": "quantitative", "scale": {"domain": [584.507, 592.151], "nice": false, "zero": false}, "axis": {"values": [585,586,587,588,589,590,591,592], "format": ".1f", "title": "m/z"}},
   "y": {"field": "ab", "type": "quantitative", "scale": {"domain": [0, 101.63], "nice": false}, "axis": {"values": [0,50,100], "title": "Relative Abundance", "offset": -12}},
   "color": {"field": "c", "type": "nominal", "scale": {"domain": ["K","L","M","H"], "range": ["#111111","#F7A530","#1FAE5B","#EF2F3C"]}, "legend": null}
  },
  "layer": [
   {"data": {"name": "p3L"}, "mark": {"type": "rule"}, "encoding": {"y2": {"datum": 0}, "size": {"field": "c", "type": "ordinal", "scale": {"domain": ["K","L","M","H"], "range": [1,1.5,1.5,1.5]}, "legend": null}}},
   {"data": {"values": [{}]}, "mark": {"type": "rule", "strokeWidth": 1}, "encoding": {"x": {"datum": 584.939}, "x2": {"datum": 592.151}, "y": {"datum": 0}, "color": {"value": "#000"}}},
   {"data": {"values": [{}]}, "mark": {"type": "rule", "strokeWidth": 1}, "encoding": {"x": {"datum": 584.939}, "y": {"datum": 0}, "y2": {"datum": 100}, "color": {"value": "#000"}}},
   {"data": {"name": "d3L"}, "mark": {"type": "rule", "strokeWidth": 0.8}, "encoding": {"x2": {"field": "mz2"}, "y2": {"field": "ab2"}, "strokeDash": {"field": "d", "type": "nominal", "scale": {"domain": ["s","d"], "range": [[1,0],[1.5,1.5]]}, "legend": null}}},
   {"data": {"name": "b3L"}, "mark": {"type": "text", "baseline": "alphabetic", "dy": -2.5, "fontSize": 7.6}, "encoding": {"text": {"field": "t"}}},
   {"data": {"name": "b3L"}, "transform": [{"filter": "datum.n"}], "mark": {"type": "text", "baseline": "alphabetic", "dy": -11, "fontSize": 9.8}, "encoding": {"text": {"field": "n"}}},
   {"data": {"name": "p3L"}, "transform": [{"filter": "datum.q == 1"}], "mark": {"type": "point", "filled": true, "size": 30, "yOffset": -3, "opacity": 1}}
  ]
 },
 {
  "width": 342, "height": 203.7,
  "title": {"text": "ribosomal protein L7", "dx": -181, "offset": -4.5},
  "encoding": {
   "x": {"field": "mz", "type": "quantitative", "scale": {"domain": [66.67, 1192.05], "nice": false, "zero": false}, "axis": {"values": [200,300,400,500,600,700,800,900,1000,1100], "format": "d", "title": "m/z"}},
   "y": {"field": "ab", "type": "quantitative", "scale": {"domain": [0, 105.33], "nice": false}, "axis": {"values": [0,50,100], "title": "Relative Abundance", "offset": -12}},
   "color": {"value": "#111111"}
  },
  "layer": [
   {"data": {"name": "p3R"}, "mark": {"type": "rule", "strokeWidth": 1}, "encoding": {"y2": {"datum": 0}}},
   {"data": {"values": [{}]}, "mark": {"type": "rule", "strokeWidth": 1}, "encoding": {"x": {"datum": 106.16}, "x2": {"datum": 1192.05}, "y": {"datum": 0}, "color": {"value": "#000"}}},
   {"data": {"values": [{}]}, "mark": {"type": "rule", "strokeWidth": 1}, "encoding": {"x": {"datum": 106.16}, "y": {"datum": 0}, "y2": {"datum": 100}, "color": {"value": "#000"}}},
   {"data": {"name": "d3R"}, "mark": {"type": "rule", "strokeWidth": 0.8}, "encoding": {"x2": {"field": "mz2"}, "y2": {"field": "ab2"}, "strokeDash": {"field": "d", "type": "nominal", "scale": {"domain": ["s","d"], "range": [[1,0],[1.5,1.5]]}, "legend": null}}},
   {"data": {"name": "b3R"}, "mark": {"type": "text", "baseline": "alphabetic", "dy": -2.5, "fontSize": 7.6}, "encoding": {"text": {"field": "t"}}},
   {"data": {"name": "b3R"}, "transform": [{"filter": "datum.s"}], "mark": {"type": "text", "baseline": "alphabetic", "align": "right", "dx": -1.5, "dy": -13, "fontSize": 11.5}, "encoding": {"text": {"field": "n"}}},
   {"data": {"name": "b3R"}, "transform": [{"filter": "datum.s"}], "mark": {"type": "text", "baseline": "alphabetic", "align": "left", "dx": 0.8, "dy": -10, "fontSize": 9.5}, "encoding": {"text": {"field": "s"}}},
   {"data": {"name": "b3R"}, "transform": [{"filter": "datum.n && !datum.s"}], "mark": {"type": "text", "baseline": "alphabetic", "dy": -11, "fontSize": 11}, "encoding": {"text": {"field": "n"}}}
  ]
 },
 {
  "width": 194, "height": 210,
  "title": {"text": "hnRNP K", "fontStyle": "italic", "subtitle": "NTDEMVELR*", "dx": 50, "offset": -11.7},
  "encoding": {
   "x": {"field": "mz", "type": "quantitative", "scale": {"domain": [552.722, 559.366], "nice": false, "zero": false}, "axis": {"values": [554,555,556,557,558,559], "format": ".1f", "title": "m/z"}},
   "y": {"field": "ab", "type": "quantitative", "scale": {"domain": [0, 109.95], "nice": false}, "axis": {"values": [0,50,100], "title": "Relative Abundance", "offset": -6}},
   "color": {"field": "c", "type": "nominal", "scale": {"domain": ["K","L","M","H"], "range": ["#111111","#F7A530","#1FAE5B","#EF2F3C"]}, "legend": null}
  },
  "layer": [
   {"data": {"name": "p4L"}, "mark": {"type": "rule"}, "encoding": {"y2": {"datum": 0}, "size": {"field": "c", "type": "ordinal", "scale": {"domain": ["K","L","M","H"], "range": [1,1.5,1.5,1.5]}, "legend": null}}},
   {"data": {"values": [{}]}, "mark": {"type": "rule", "strokeWidth": 1}, "encoding": {"x": {"datum": 552.927}, "x2": {"datum": 559.366}, "y": {"datum": 0}, "color": {"value": "#000"}}},
   {"data": {"values": [{}]}, "mark": {"type": "rule", "strokeWidth": 1}, "encoding": {"x": {"datum": 552.927}, "y": {"datum": 0}, "y2": {"datum": 100}, "color": {"value": "#000"}}},
   {"data": {"name": "b4L"}, "mark": {"type": "text", "baseline": "alphabetic", "dy": -2.5, "fontSize": 7.6}, "encoding": {"text": {"field": "t"}}},
   {"data": {"name": "b4L"}, "transform": [{"filter": "datum.n"}], "mark": {"type": "text", "baseline": "alphabetic", "dy": -11, "fontSize": 9.8}, "encoding": {"text": {"field": "n"}}},
   {"data": {"name": "p4L"}, "transform": [{"filter": "datum.q == 1"}], "mark": {"type": "point", "filled": true, "size": 30, "yOffset": -3, "opacity": 1}}
  ]
 },
 {
  "width": 335.3, "height": 215,
  "title": {"text": "heterogeneous nuclear ribonucleoprotein K", "dx": -138, "offset": -0.2},
  "encoding": {
   "x": {"field": "mz", "type": "quantitative", "scale": {"domain": [90.0, 1127.4], "nice": false, "zero": false}, "axis": {"values": [200,300,400,500,600,700,800,900,1000,1100], "format": "d", "title": "m/z"}},
   "y": {"field": "ab", "type": "quantitative", "scale": {"domain": [0, 110.82], "nice": false}, "axis": {"values": [0,50,100], "title": "Relative Abundance", "offset": -6}},
   "color": {"value": "#111111"}
  },
  "layer": [
   {"data": {"name": "p4R"}, "mark": {"type": "rule", "strokeWidth": 1}, "encoding": {"y2": {"datum": 0}}},
   {"data": {"values": [{}]}, "mark": {"type": "rule", "strokeWidth": 1}, "encoding": {"x": {"datum": 109.5}, "x2": {"datum": 1127.4}, "y": {"datum": 0}, "color": {"value": "#000"}}},
   {"data": {"values": [{}]}, "mark": {"type": "rule", "strokeWidth": 1}, "encoding": {"x": {"datum": 109.5}, "y": {"datum": 0}, "y2": {"datum": 100}, "color": {"value": "#000"}}},
   {"data": {"name": "d4R"}, "mark": {"type": "rule", "strokeWidth": 0.8}, "encoding": {"x2": {"field": "mz2"}, "y2": {"field": "ab2"}, "strokeDash": {"field": "d", "type": "nominal", "scale": {"domain": ["s","d"], "range": [[1,0],[1.5,1.5]]}, "legend": null}}},
   {"data": {"name": "b4R"}, "mark": {"type": "text", "baseline": "alphabetic", "dy": -2.5, "fontSize": 7.6}, "encoding": {"text": {"field": "t"}}},
   {"data": {"name": "b4R"}, "transform": [{"filter": "datum.s"}], "mark": {"type": "text", "baseline": "alphabetic", "align": "right", "dx": -1.5, "dy": -13, "fontSize": 11.5}, "encoding": {"text": {"field": "n"}}},
   {"data": {"name": "b4R"}, "transform": [{"filter": "datum.s"}], "mark": {"type": "text", "baseline": "alphabetic", "align": "left", "dx": 0.8, "dy": -10, "fontSize": 9.5}, "encoding": {"text": {"field": "s"}}},
   {"data": {"name": "b4R"}, "transform": [{"filter": "datum.n && !datum.s"}], "mark": {"type": "text", "baseline": "alphabetic", "dy": -11, "fontSize": 11}, "encoding": {"text": {"field": "n"}}}
  ]
 }
]
}
